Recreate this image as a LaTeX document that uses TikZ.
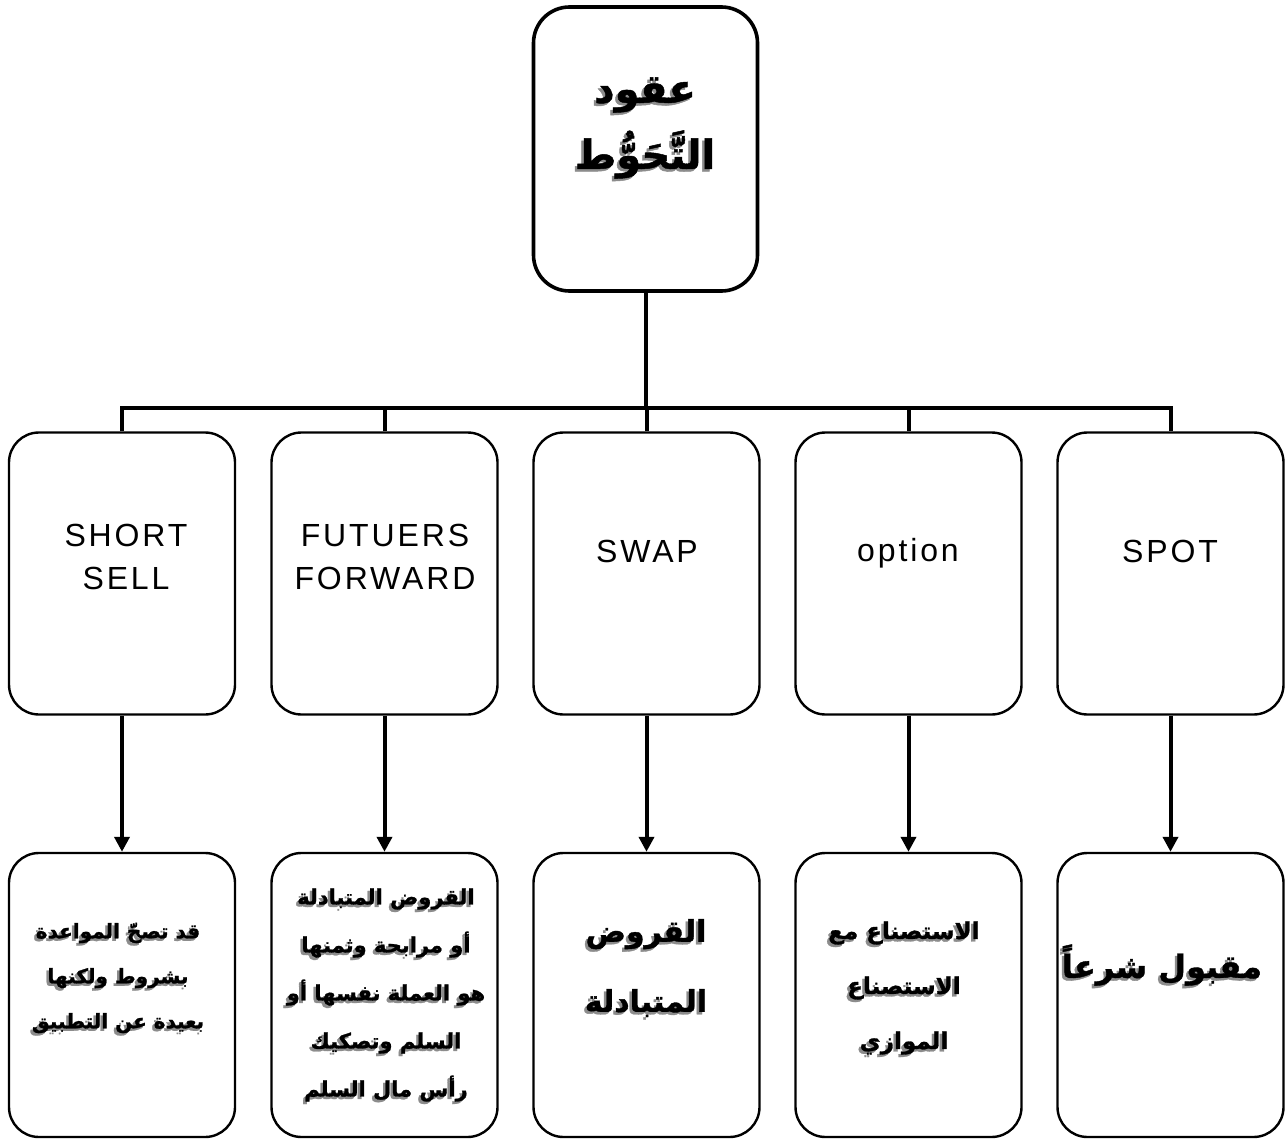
\documentclass[tikz,border=0pt]{standalone}
\usepackage{fontspec}
\setmainfont{Liberation Sans}
\newfontfamily\latinsp[LetterSpace=9]{Liberation Sans}
\newfontfamily\arabicfont[Script=Arabic, BoldFeatures={FakeBold=1.2}]{DejaVu Sans}
\TeXXeTstate=1
\usetikzlibrary{arrows.meta}
\newcommand\shtext[5]{% name, position (x,y without parens), size, baselineskip, content
  \node[artext, text=black!45, font={\arabicfont\bfseries\fontsize{#3}{#4}\selectfont}] at ([shift={(-2.5,2.5)}]#2) {#5};
  \node[artext, font={\arabicfont\bfseries\fontsize{#3}{#4}\selectfont}] (#1) at (#2) {#5};
}
\begin{document}
\begin{tikzpicture}[x=1pt,y=-1pt,
  box/.style={draw=black, line width=2.4pt, rounded corners=30pt, minimum width=226pt, minimum height=282pt, inner sep=0pt},
  topbox/.style={draw=black, line width=3.6pt, rounded corners=36pt, minimum width=224pt, minimum height=284pt, inner sep=0pt},
  conn/.style={draw=black, line width=4pt},
  arr/.style={draw=black, line width=4pt, -{Triangle[length=15pt,width=15pt]}},
  latin/.style={align=center, font={\latinsp\fontsize{32}{43}\selectfont}},
  artext/.style={align=center, inner sep=0pt}
]
\useasboundingbox (0,0) rectangle (1287,1139);
% boxes
\node[topbox] (top) at (645.5,149) {};
\foreach \i/\x in {1/122,2/384.5,3/646.5,4/908.5,5/1170.5}{
  \node[box] (m\i) at (\x,573.5) {};
  \node[box, minimum height=284pt] (b\i) at (\x,995) {};
}
\coordinate (hl) at (0,408);
% connectors
\draw[conn] (top.south) -- (top.south |- hl);
\draw[conn] (m1.north) -- (m1.north |- hl) -- (m5.north |- hl) -- (m5.north);
\draw[conn] (m2.north) -- (m2.north |- hl);
\draw[conn] (m3.north) -- (m3.north |- hl);
\draw[conn] (m4.north) -- (m4.north |- hl);
\foreach \i in {1,...,5}{ \draw[arr] (m\i.south) -- (b\i.north); }
% latin labels
\node[latin] (t1) at (126,557) {SHORT\\SELL};
\node[latin] (t2) at (385,557) {FUTUERS\\FORWARD};
\node[latin] (t3) at (647,551) {SWAP};
\node[latin] (t4) at (908,553) {option};
\node[latin] (t5) at (1170,551) {SPOT};
% arabic labels
\shtext{a0}{645,128}{40}{66}{\beginR عقود\endR\\\beginR التَّحَوُّط\endR}
\shtext{a1}{118,978}{20}{45}{\beginR قد تصحّ المواعدة\endR\\\beginR بشروط ولكنها\endR\\\beginR بعيدة عن التطبيق\endR}
\shtext{a2}{386,995}{21}{48}{\beginR القروض المتبادلة\endR\\\beginR أو مرابحة وثمنها\endR\\\beginR هو العملة نفسها أو\endR\\\beginR السلم وتصكيك\endR\\\beginR رأس مال السلم\endR}
\shtext{a3}{646,968}{30}{70}{\beginR القروض\endR\\\beginR المتبادلة\endR}
\shtext{a4}{904,988}{23}{55}{\beginR الاستصناع مع\endR\\\beginR الاستصناع\endR\\\beginR الموازي\endR}
\shtext{a5}{1162,965}{32}{40}{\beginR مقبول شرعاً\endR}
\end{tikzpicture}
\end{document}
